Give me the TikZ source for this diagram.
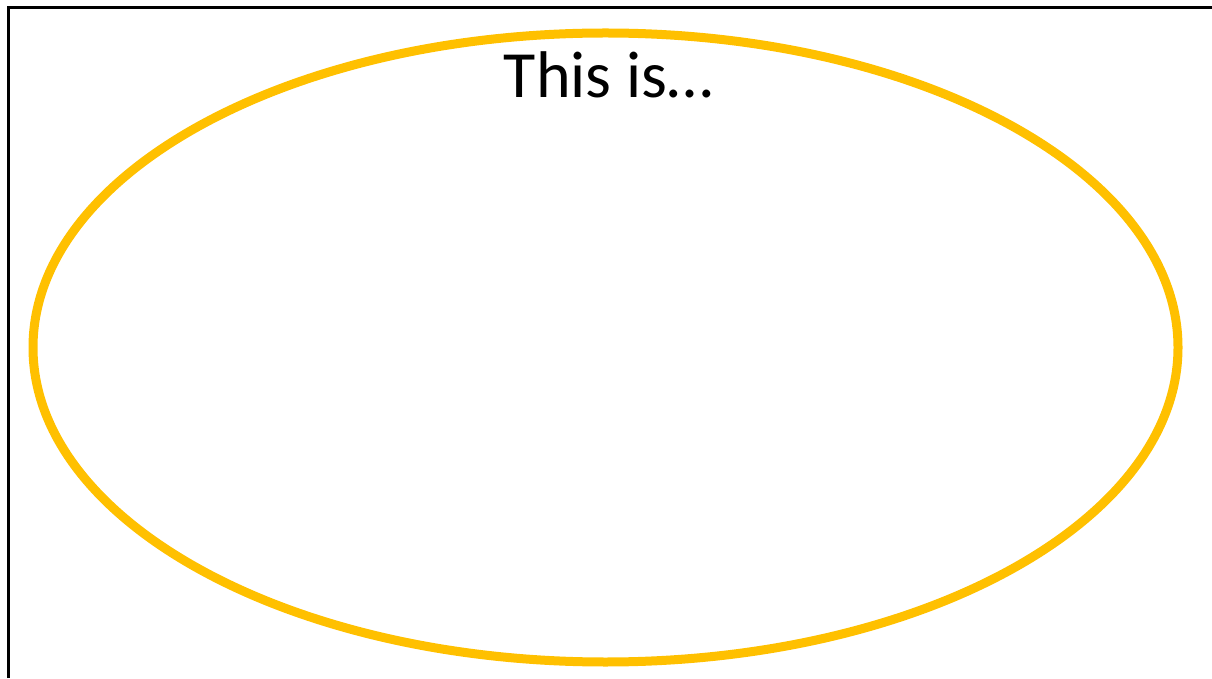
\documentclass[tikz,border=0pt]{standalone}
\usepackage{fontspec}
\setmainfont{Carlito}
\usepackage{tikz}
\usetikzlibrary{positioning,shapes.geometric,calc}
\definecolor{ringGold}{HTML}{FFC000}

\begin{document}
\begin{tikzpicture}[x=1pt,y=1pt,
    ringline/.style={draw=ringGold,line width=9pt,ellipse,inner sep=0pt},
    frameline/.style={draw=black,line width=3pt}]
  \useasboundingbox (0,0) rectangle (1212,678);
  % slide frame, cut off at right and bottom
  \draw[frameline] (8,0) -- (8,670) -- (1212,670);
  \node[ringline,minimum width=1145pt,minimum height=629pt] (ring) at (605.5,330.5) {};
  \node[anchor=base,inner sep=0pt,font=\fontsize{66}{72}\selectfont] (title)
    at ($(ring.north)+(3,-69)$) {This is…};
\end{tikzpicture}
\end{document}
